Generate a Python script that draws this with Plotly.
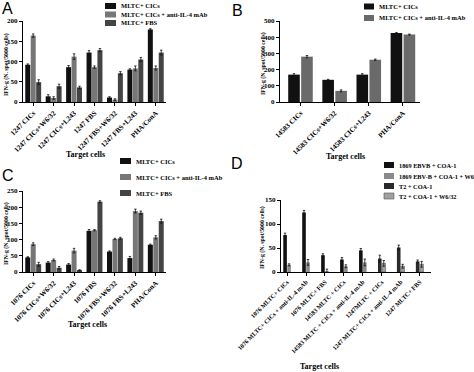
import plotly.graph_objects as go

W, H = 474, 372

# ---------------- data ----------------
# Panel A
a_cats = ["1247 CICs", "1247 CICs+W6/32", "1247 CICs+L243", "1247 FBS",
          "1247 FBS+W6/32", "1247 FBS+L243", "PHA/ConA"]
a_cics = [92, 14, 86, 122, 11, 80, 179]
a_cics_err = [2, 4, 4, 5, 2, 2, 2]
a_il4 = [164, 10, 112, 86, 6, 83, 84]
a_il4_err = [4, 3, 7, 3, 2, 6, 5]
a_fbs = [49, 39, 36, 128, 71, 105, 122]
a_fbs_err = [6, 5, 3, 4, 4, 5, 6]

# Panel B
b_cats = ["14583 CICs", "14583 CICs+W6/32", "14583 CICs+L243", "PHA/ConA"]
b_cics = [169, 137, 169, 426]
b_cics_err = [6, 3, 6, 3]
b_il4 = [280, 69, 261, 416]
b_il4_err = [7, 6, 4, 3]

# Panel C
c_cats = ["1076 CICs", "1076 CICs+W6/32", "1076 CICs+L243", "1076 FBS",
          "1076 FBS+W6/32", "1076 FBS+L243", "PHA/ConA"]
c_cics = [45, 29, 23, 127, 63, 43, 84]
c_cics_err = [2, 3, 3, 4, 2, 5, 2]
c_il4 = [86, 37, 66, 129, 102, 188, 107]
c_il4_err = [4, 3, 7, 2, 2, 6, 5]
c_fbs = [24, 13, 5, 217, 104, 183, 157]
c_fbs_err = [6, 4, 2, 3, 3, 5, 6]

# Panel D
d_cats = ["1076 MLTC+ CICs", "1076 MLTC+ CICs + anti-IL-4 mAb", "1076 MLTC+ FBS",
          "14583 MLTC + CICs", "14583 MLTC + CICs + anti-IL-4 mAb", "1247MLTC + CICs",
          "1247 MLTC+ CICs + anti-IL-4 mAb", "1247 MLTC+ FBS"]
d_ebvb = [77, 124, 35, 26, 45, None, None, None]
d_ebvb_err = [4, 4, 3, 4, 4, None, None, None]
d_ebvb_w632 = [15, 20, 2, 12, 20, None, None, None]
d_ebvb_w632_err = [2, 6, 4, 3, 7, None, None, None]
d_t2 = [None, None, None, None, None, 28, 51, 22]
d_t2_err = [None, None, None, None, None, 7, 5, 3]
d_t2_w632 = [None, None, None, None, None, 18, 12, 16]
d_t2_w632_err = [None, None, None, None, None, 6, 4, 6]

y_ticks_a = [0, 50, 100, 150, 200]
y_ticks_b = [0, 100, 200, 300, 400, 500]
y_ticks_c = [0, 50, 100, 150, 200, 250]
y_ticks_d = [0, 50, 100, 150]

# ---------------- styles ----------------
BLACK = "#111111"
GRAY = "#777777"
DARK = "#444444"
SERIF = "Liberation Serif"
SANS = "Liberation Sans"


def px_x(p):
    return p / W


def px_y(p):
    return 1 - p / H


fig = go.Figure()


def add_bar(x, y, err, color, xa, ya, name, width=None, offset=None, line=None):
    fig.add_trace(go.Bar(
        x=x, y=y, name=name, showlegend=False, hoverinfo="skip",
        marker=dict(color=color, line=dict(width=0.6 if line else 0, color=line or color)),
        error_y=dict(type="data", array=err, color="#111111", thickness=0.8, width=1.2),
        xaxis=xa, yaxis=ya, width=width, offset=offset,
    ))


names3 = ["MLTC+ CICs", "MLTC+ CICs + anti-IL-4 mAb", "MLTC+ FBS"]

# A
add_bar(a_cats, a_cics, a_cics_err, BLACK, "x", "y", names3[0])
add_bar(a_cats, a_il4, a_il4_err, GRAY, "x", "y", names3[1])
add_bar(a_cats, a_fbs, a_fbs_err, DARK, "x", "y", names3[2])
# B
add_bar(b_cats, b_cics, b_cics_err, BLACK, "x2", "y2", names3[0], width=0.34, offset=-0.36)
add_bar(b_cats, b_il4, b_il4_err, "#6a6a6a", "x2", "y2", names3[1], width=0.34, offset=0.02)
# C
add_bar(c_cats, c_cics, c_cics_err, BLACK, "x3", "y3", names3[0])
add_bar(c_cats, c_il4, c_il4_err, GRAY, "x3", "y3", names3[1])
add_bar(c_cats, c_fbs, c_fbs_err, DARK, "x3", "y3", names3[2])
# D
d_names = ["1869 EBVB + COA-1", "1869 EBV-B + COA-1 + W6/32", "T2 + COA-1", "T2 + COA-1 + W6/32"]
d_colors = [BLACK, "#8a8a8a", "#2a2a2a", "#a0a0a0"]
add_bar(d_cats, d_ebvb, d_ebvb_err, d_colors[0], "x4", "y4", d_names[0], width=0.19, offset=-0.2)
add_bar(d_cats, d_ebvb_w632, d_ebvb_w632_err, d_colors[1], "x4", "y4", d_names[1], width=0.19, offset=0.01)
add_bar(d_cats, d_t2, d_t2_err, d_colors[2], "x4", "y4", d_names[2], width=0.19, offset=-0.2)
add_bar(d_cats, d_t2_w632, d_t2_w632_err, d_colors[3], "x4", "y4", d_names[3], width=0.19, offset=0.01,
        line="#555555")


def xaxis(dom, anchor, rng, fs):
    return dict(domain=[px_x(dom[0]), px_x(dom[1])], anchor=anchor, range=rng,
                automargin=False, fixedrange=True,
                showline=True, linecolor="black", linewidth=1.3, mirror=False,
                ticks="outside", ticklen=3, tickwidth=1, tickcolor="black",
                tickangle=-45, showgrid=False, zeroline=False,
                tickfont=dict(family=SERIF, size=fs, color="black", weight="bold"))


def yaxis(dom, anchor, rng, tv):
    return dict(domain=[px_y(dom[1]), px_y(dom[0])], anchor=anchor, range=rng,
                automargin=False, fixedrange=True,
                tickvals=tv, showline=True, linecolor="black", linewidth=1.3,
                ticks="outside", ticklen=3, tickwidth=1, tickcolor="black",
                showgrid=False, zeroline=False,
                tickfont=dict(family=SERIF, size=7, color="black", weight="bold"))


fig.update_layout(
    width=W, height=H,
    margin=dict(l=0, r=0, t=0, b=0, autoexpand=False),
    paper_bgcolor="white", plot_bgcolor="white",
    barmode="group", bargap=0.2, bargroupgap=0.08,
    showlegend=False,
    xaxis=xaxis((23, 166), "y", [-0.5, 6.5], 7.1),
    yaxis=yaxis((21, 102), "x", [0, 200], y_ticks_a),
    xaxis2=xaxis((280, 420), "y2", [-0.6, 3.5], 7.1),
    yaxis2=yaxis((21, 102), "x2", [0, 500], y_ticks_b),
    xaxis3=xaxis((23, 166), "y3", [-0.5, 6.5], 7.1),
    yaxis3=yaxis((191, 272), "x3", [0, 250], y_ticks_c),
    xaxis4=xaxis((281, 431), "y4", [-0.32, 7.6], 6.2),
    yaxis4=yaxis((200, 272), "x4", [0, 150], y_ticks_d),
)

ann = []
shapes = []


def text(x, y, t, size, family=SERIF, bold=True, angle=0, xanchor="center"):
    ann.append(dict(x=px_x(x), y=px_y(y), xref="paper", yref="paper", text=t,
                    showarrow=False, textangle=angle, xanchor=xanchor, yanchor="middle",
                    font=dict(family=family, size=size, color="black",
                              weight="bold" if bold else "normal")))


# panel letters
text(8, 9, "A", 16, SANS, False)
text(237, 11, "B", 16, SANS, False)
text(8, 175, "C", 16, SANS, False)
text(237, 163, "D", 16, SANS, False)

# axis titles
ytitle = "IFN-g (N. spot/5000 cells)"
for (x, y) in [(6, 65), (263, 64), (6, 234), (262, 238)]:
    text(x, y, ytitle, 5.8, angle=-90)
for (x, y) in [(85, 154), (345, 156), (87, 324), (319, 366)]:
    text(x, y, "Target cells", 8)


# legends (manual)
def legend_item(x0, w, yc, color, label, size=6.5, outline=None):
    shapes.append(dict(type="rect", xref="paper", yref="paper",
                       x0=px_x(x0), x1=px_x(x0 + w), y0=px_y(yc + 3), y1=px_y(yc - 3),
                       fillcolor=color, line=dict(width=0.6 if outline else 0,
                                                  color=outline or color)))
    text(x0 + w + 3, yc, label, size, xanchor="left")


for yc, col, nm in zip([6, 14.5, 23], [BLACK, GRAY, DARK], names3):
    legend_item(105, 11, yc, col, nm)
for yc, col, nm in zip([6.5, 18], [BLACK, "#6a6a6a"], names3[:2]):
    legend_item(364, 10, yc, col, nm)
for yc, col, nm in zip([161, 177, 193], [BLACK, GRAY, DARK], names3):
    legend_item(120, 11, yc, col, nm)
for i, (yc, nm) in enumerate(zip([165, 176, 186, 196], d_names)):
    legend_item(384, 10, yc, d_colors[i], nm, size=6.3, outline="#555555" if i == 3 else None)

fig.update_layout(annotations=ann, shapes=shapes)

fig.write_html("out.html", config={"displayModeBar": False},
               post_script="document.body.style.margin='0px';")
